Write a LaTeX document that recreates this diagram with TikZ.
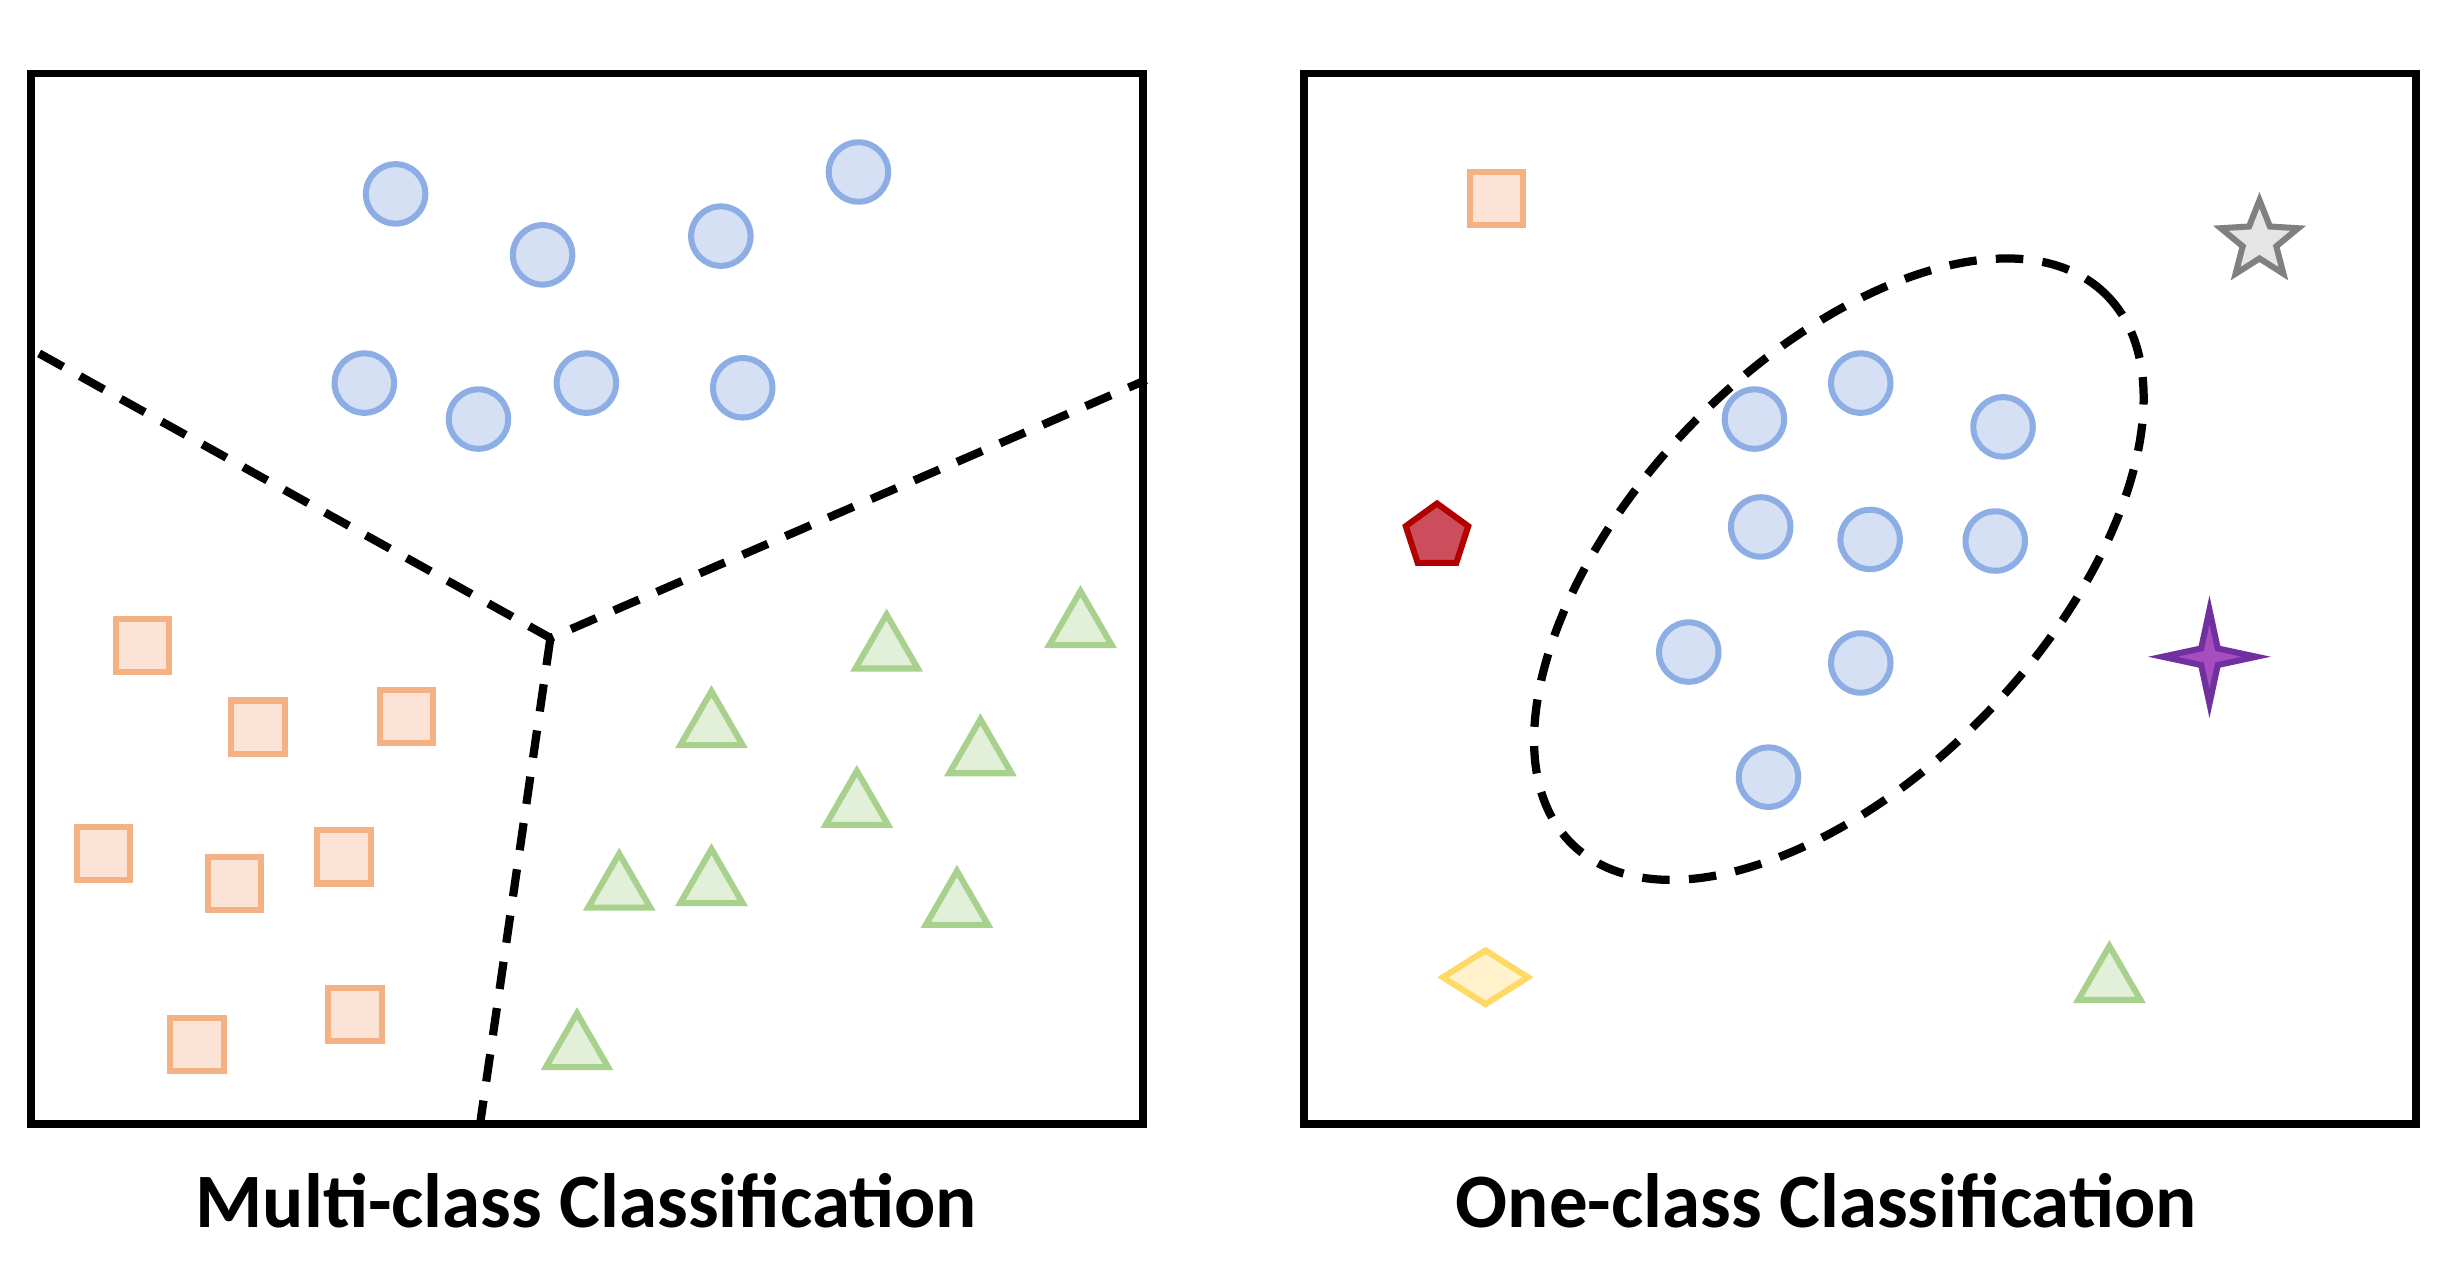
\documentclass[tikz,border=0pt]{standalone}
\usepackage{fontspec}
\setmainfont{Carlito}
\usetikzlibrary{shapes.geometric}
\definecolor{cfill}{HTML}{D6E0F5}\definecolor{cdraw}{HTML}{8DAEE4}
\definecolor{sfill}{HTML}{FBE3D6}\definecolor{sdraw}{HTML}{F4B183}
\definecolor{tfill}{HTML}{E2F0D9}\definecolor{tdraw}{HTML}{A9D18E}
\tikzset{
 pt/.style={inner sep=0pt,line width=1.1pt},
 circ/.style={pt,circle,minimum size=0.38cm,fill=cfill,draw=cdraw},
 sq/.style={pt,rectangle,minimum size=0.34cm,fill=sfill,draw=sdraw},
 tri/.style={pt,regular polygon,regular polygon sides=3,minimum size=0.46cm,fill=tfill,draw=tdraw},
 box/.style={line width=1.4pt},
 bound/.style={dashed,line width=1.5pt,dash pattern=on 5pt off 3.5pt},
 lab/.style={font=\bfseries\fontsize{14}{16}\selectfont}
}
\begin{document}
\begin{tikzpicture}[x=0.01cm,y=-0.01cm]
\useasboundingbox (0,0) rectangle (1563,815);
\draw[box] (20,47) rectangle (731,719);
\draw[box] (834,47) rectangle (1545,719);
% boundaries
\coordinate (j) at (352,408);
\coordinate (e1) at (25,226);\coordinate (e2) at (733,243);\coordinate (e3) at (307,719);
\draw[bound] (e1)--(j)--(e2);
\draw[bound] (j)--(e3);
% left
\foreach \n/\x/\y in {a/253/124,b/347/163,c/461/151,d/549/110,e/233/245,f/306/268,g/375/245,h/475/248}
 \node[circ] (lc\n) at (\x,\y) {};
\foreach \n/\x/\y in {a/91/413,b/165/465,c/260/458,d/66/546,e/150/565,f/220/548,g/126/668,h/227/649}
 \node[sq] (ls\n) at (\x,\y) {};
\foreach \n/\x/\y in {a/567/416,b/691/401,c/455/465,d/627/483,e/548/516,f/396/569,g/455/566,h/612/580,i/369/671}
 \node[tri] (lt\n) at (\x,\y) {};
% right
\foreach \n/\x/\y in {a/1190/245,b/1122/268,c/1281/273,d/1126/337,e/1196/345,f/1276/346,g/1080/417,h/1190/424,i/1131/497}
 \node[circ] (rc\n) at (\x,\y) {};
\draw[bound] (1176,364) ellipse[x radius=245,y radius=132,rotate=46];
\node[sq] (rs) at (957,127) {};
\node[tri] (rt) at (1349,628) {};
\node[pt,star,star points=5,star point ratio=2.3,minimum size=0.52cm,fill=gray!20,draw=gray] (rstar) at (1445,154) {};
\node[pt,regular polygon,regular polygon sides=5,minimum size=0.42cm,fill={rgb,255:red,204;green,78;blue,92},draw={rgb,255:red,178;green,0;blue,0}] (rp) at (919,343) {};
\node[pt,star,star points=4,star point ratio=4,minimum size=0.6cm,fill={rgb,255:red,166;green,77;blue,191},draw={rgb,255:red,112;green,48;blue,160}] (r4) at (1413,420) {};
\node[pt,diamond,minimum width=0.56cm,minimum height=0.36cm,fill={rgb,255:red,255;green,242;blue,204},draw={rgb,255:red,255;green,217;blue,102}] (rd) at (950,625) {};
\node[lab] (t1) at (375,768) {Multi-class Classification};
\node[lab] (t2) at (1168,768) {One-class Classification};
\end{tikzpicture}
\end{document}
